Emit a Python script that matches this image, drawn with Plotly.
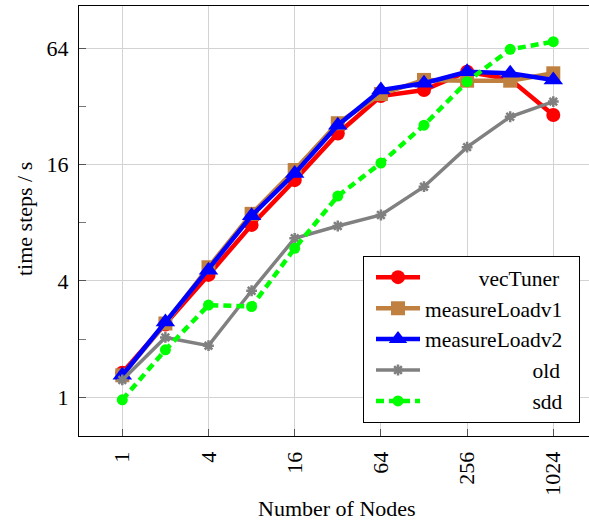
import numpy as np
import plotly.graph_objects as go

nodes = [1, 2, 4, 8, 16, 32, 64, 128, 256, 512, 1024]
vecTuner = [1.34, 2.38, 4.3, 7.8, 13.3, 23.2, 36.2, 38.9, 48.4, 44.2, 28.9]
measureLoadv1 = [1.30, 2.41, 4.71, 8.9, 15.0, 26.2, 37.1, 43.9, 43.5, 43.5, 47.5]
measureLoadv2 = [1.30, 2.45, 4.55, 8.7, 14.4, 25.6, 38.9, 42.2, 48.4, 47.5, 43.9]
old = [1.23, 2.04, 1.85, 3.56, 6.65, 7.7, 8.78, 12.3, 19.7, 28.3, 33.9]
sdd = [0.97, 1.76, 3.0, 2.95, 5.9, 11.0, 16.3, 25.6, 43.0, 63.2, 69.2]

x_ticks = [1, 4, 16, 64, 256, 1024]
y_ticks = [1, 4, 16, 64]
y_minor = [2, 8, 32]

FONT = "Liberation Serif"
FS = 22
LFS = 21.5
NB = "\u00a0"
# right-align legend labels (pad with non-breaking spaces)
pad = {"vecTuner": 10, "measureLoadv1": 0, "measureLoadv2": 0, "old": 20, "sdd": 20}

series = [
    ("vecTuner", vecTuner, "#ff0000", "circle", 14, dict(width=4.5)),
    ("measureLoadv1", measureLoadv1, "#bf8040", "square", 14, dict(width=4.5)),
    ("measureLoadv2", measureLoadv2, "#0000ff", "triangle-up", 17, dict(width=4.5)),
    ("old", old, "#808080", "asterisk-open", 9, dict(width=3.5)),
    ("sdd", sdd, "#00ff00", "circle", 11, dict(width=4.5, dash="8px,5px")),
]

fig = go.Figure()
for i, (name, vals, col, sym, size, line) in enumerate(series):
    mk = dict(symbol=sym, size=size, color=col, line=dict(width=0, color=col))
    if sym == "asterisk-open":
        mk["line"] = dict(width=2.5, color=col)
    fig.add_trace(go.Scatter(
        x=nodes, y=vals, mode="lines+markers", name=NB * pad[name] + name + NB * 2,
        line=dict(color=col, **line), marker=mk,
    ))

L, T, B = 79, 6, 87
W, H = 589, 523
pw = W - L
ph = H - T - B
l2 = np.log10(2)
# axis ranges derived from pixel positions of 1 and per-doubling spacing
x0 = -(122.3 - L) / 43.1
xr = [x0 * l2, (x0 + pw / 43.1) * l2]
y0 = -((H - B) - 397.3) / 58.17
yr = [y0 * l2, (y0 + ph / 58.17) * l2]

fig.update_layout(
    width=W, height=H,
    margin=dict(l=L, r=0, t=T, b=B),
    paper_bgcolor="white", plot_bgcolor="white",
    font=dict(family=FONT, size=FS, color="black"),
    showlegend=True,
    legend=dict(
        x=(580 - L) / pw, y=((H - B) - 422.7) / ph, xanchor="right", yanchor="bottom",
        bordercolor="black", borderwidth=1, bgcolor="white",
        font=dict(family=FONT, size=LFS), itemwidth=44, indentation=7,
    ),
)
fig.update_xaxes(
    type="log", range=xr, tickvals=x_ticks, ticktext=[str(v) for v in x_ticks],
    tickangle=-90, ticks="inside", ticklen=7, tickcolor="#555", tickwidth=1,
    showgrid=True, gridcolor="#d3d3d3", gridwidth=1,
    showline=True, linecolor="black", linewidth=1, mirror=True,
    zeroline=False, ticklabelstandoff=6,
    tickfont=dict(family=FONT, size=FS),
)
fig.update_yaxes(
    type="log", range=yr, tickvals=y_ticks, ticktext=[str(v) for v in y_ticks],
    ticks="inside", ticklen=7, tickcolor="#555", tickwidth=1,
    showgrid=True, gridcolor="#d3d3d3", gridwidth=1,
    showline=True, linecolor="black", linewidth=1, mirror=False,
    zeroline=False, ticklabelstandoff=5,
    minor=dict(tickvals=y_minor, ticks="inside", ticklen=7, tickcolor="#777", showgrid=False),
    tickfont=dict(family=FONT, size=FS),
)
fig.add_annotation(
    text="Number of Nodes", xref="paper", yref="paper",
    x=(337 - L) / pw, y=((H - B) - 508) / ph, xanchor="center", yanchor="middle",
    showarrow=False, font=dict(family=FONT, size=FS),
)
fig.add_annotation(
    text="time steps / s", xref="paper", yref="paper", textangle=-90,
    x=(24 - L) / pw, y=((H - B) - 219) / ph, xanchor="center", yanchor="middle",
    showarrow=False, font=dict(family=FONT, size=FS),
)

fig.write_html("out.html", config={"displayModeBar": False},
               post_script="document.body.style.margin='0px';")
